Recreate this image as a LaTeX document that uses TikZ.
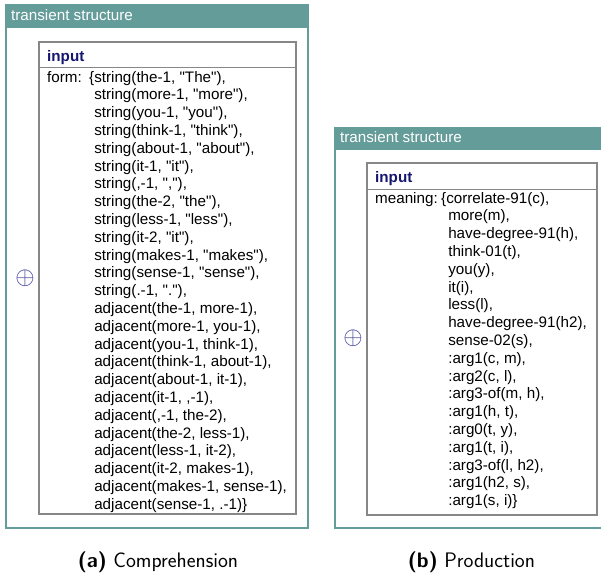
\documentclass[tikz,border=0pt]{standalone}
\usepackage{fontspec}
\setmainfont{Liberation Sans}[Ligatures=TeXOff]
\usepackage{xcolor}
\usepackage{tikz}
\usetikzlibrary{calc}

\definecolor{tsteal}{RGB}{100,156,153}
\definecolor{boxgray}{RGB}{135,135,135}
\definecolor{inputblue}{RGB}{22,22,112}
\definecolor{plusblue}{RGB}{55,55,150}

\newcommand{\listfont}{\fontsize{15.2}{17.8}\selectfont}

\begin{document}
\begin{tikzpicture}[x=1pt,y=-1pt,
    tstitle/.style={anchor=base west,inner sep=0pt,text=white,font=\listfont},
    inlabel/.style={anchor=base west,inner sep=0pt,text=inputblue,font=\bfseries\listfont},
    featlist/.style={anchor=base west,inner sep=0pt,font=\listfont},
    outerbox/.style={draw=tsteal,line width=2.2pt},
    innerbox/.style={draw=boxgray,line width=1.6pt},
    expander/.style={inner sep=0pt,text=plusblue,font=\fontsize{23}{23}\selectfont},
    subcap/.style={anchor=base,inner sep=0pt,font=\sffamily\fontsize{21}{25}\selectfont}]
        \useasboundingbox (0,0) rectangle (601,573);
        % Corners of the two panels
        \coordinate (A-nw) at (6,5);     % outer box of (a)
        \coordinate (A-se) at (308,528);
        \coordinate (A-in) at (39,42);   % inner box of (a)
        \coordinate (A-out) at (296,514);
        \coordinate (B-nw) at (335,128); % outer box of (b), runs off the page
        \coordinate (B-se) at (620,528);
        \coordinate (B-in) at (367,163); % inner box of (b)
        \coordinate (B-out) at (597,515);
        % Panel (a): comprehension
        \fill[tsteal] (A-nw) rectangle ($(A-se|-A-nw)+(0,23)$); % header band
        \draw[outerbox] (A-nw) rectangle (A-se);
        \node[tstitle] (tsA) at (11,20) {transient structure};
        \draw[innerbox] (A-in) rectangle (A-out);
        \draw[draw=boxgray,line width=1pt] (39,67) -- (296,67); % below the input row
        \node[inlabel] (inA) at (47,61) {input};
        \node[featlist] (formA) at (47,82) {\begin{tabular}[t]{@{}l@{}l@{}l@{}}
            \makebox[42pt][l]{form:} & \{ & string(the-1, "The"),\\
            & & string(more-1, "more"),\\
            & & string(you-1, "you"),\\
            & & string(think-1, "think"),\\
            & & string(about-1, "about"),\\
            & & string(it-1, "it"),\\
            & & string(,-1, ","),\\
            & & string(the-2, "the"),\\
            & & string(less-1, "less"),\\
            & & string(it-2, "it"),\\
            & & string(makes-1, "makes"),\\
            & & string(sense-1, "sense"),\\
            & & string(.-1, "."),\\
            & & adjacent(the-1, more-1),\\
            & & adjacent(more-1, you-1),\\
            & & adjacent(you-1, think-1),\\
            & & adjacent(think-1, about-1),\\
            & & adjacent(about-1, it-1),\\
            & & adjacent(it-1, ,-1),\\
            & & adjacent(,-1, the-2),\\
            & & adjacent(the-2, less-1),\\
            & & adjacent(less-1, it-2),\\
            & & adjacent(it-2, makes-1),\\
            & & adjacent(makes-1, sense-1),\\
            & & adjacent(sense-1, .-1)\}
        \end{tabular}};
        \node[expander] (plusA) at (25,278) {$\oplus$};
        \node[subcap] (capA) at (158,567) {\textbf{(a)} Comprehension};
        % Panel (b): production
        \fill[tsteal] (B-nw) rectangle ($(B-se|-B-nw)+(0,22)$); % header band
        \draw[outerbox] (B-nw) rectangle (B-se);
        \node[tstitle] (tsB) at (340,142) {transient structure};
        \draw[innerbox] (B-in) rectangle (B-out);
        \draw[draw=boxgray,line width=1pt] (367,189) -- (597,189); % below the input row
        \node[inlabel] (inB) at (375,182) {input};
        \node[featlist] (meaningB) at (375,203) {\begin{tabular}[t]{@{}l@{}l@{}l@{}}
            \makebox[66pt][l]{meaning:} & \{ & correlate-91(c),\\
            & & \hspace{2pt}more(m),\\
            & & \hspace{2pt}have-degree-91(h),\\
            & & \hspace{2pt}think-01(t),\\
            & & \hspace{2pt}you(y),\\
            & & \hspace{2pt}it(i),\\
            & & \hspace{2pt}less(l),\\
            & & \hspace{2pt}have-degree-91(h2),\\
            & & \hspace{2pt}sense-02(s),\\
            & & \hspace{2pt}:arg1(c, m),\\
            & & \hspace{2pt}:arg2(c, l),\\
            & & \hspace{2pt}:arg3-of(m, h),\\
            & & \hspace{2pt}:arg1(h, t),\\
            & & \hspace{2pt}:arg0(t, y),\\
            & & \hspace{2pt}:arg1(t, i),\\
            & & \hspace{2pt}:arg3-of(l, h2),\\
            & & \hspace{2pt}:arg1(h2, s),\\
            & & \hspace{2pt}:arg1(s, i)\}
        \end{tabular}};
        \node[expander] (plusB) at (353,338) {$\oplus$};
        \node[subcap] (capB) at (471.5,567) {\textbf{(b)} Production};
    \end{tikzpicture}
\end{document}
